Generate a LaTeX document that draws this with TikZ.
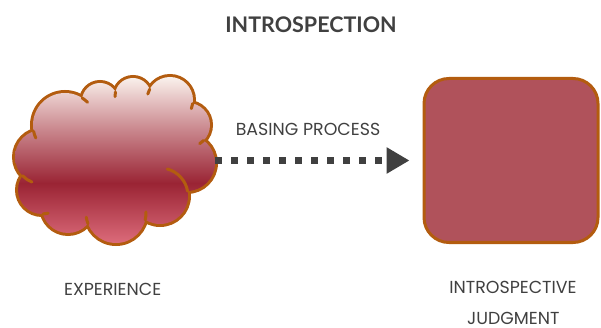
\documentclass[tikz,border=0pt]{standalone}
\usepackage{fontspec}
\setmainfont{Lato}
\newfontfamily\lblfont{Poppins}
\usetikzlibrary{arrows.meta,calc}
\definecolor{txt}{HTML}{404040}
\definecolor{edge}{HTML}{B35C0F}
\definecolor{boxfill}{HTML}{B0525B}
\definecolor{cbot}{HTML}{DC6B7A}
\definecolor{cdark}{HTML}{9A2434}
\definecolor{cmid}{HTML}{CC8C92}
\definecolor{ctop}{HTML}{FAF1EC}
\pgfdeclareverticalshading{cloudshade}{100bp}{color(0bp)=(cbot); color(25bp)=(cbot); color(43bp)=(cdark); color(60bp)=(cmid); color(75bp)=(ctop); color(100bp)=(ctop)}
\begin{document}
\begin{tikzpicture}[x=1pt,y=-1pt,
  lbl/.style={text=txt,font=\lblfont\fontsize{17.4}{19}\selectfont,inner sep=0pt},
  puffedge/.style={draw=edge,line width=6pt},
  stub/.style={draw=edge,line width=3pt,line cap=round},
  boxnode/.style={draw=edge,line width=3pt,fill=boxfill,rounded corners=25pt,minimum width=174pt,minimum height=164pt,inner sep=0pt},
  flow/.style={draw=txt,line width=7pt,dash pattern=on 7pt off 9pt,-{Triangle[length=23pt,width=25pt]}}]
\useasboundingbox (0,0) rectangle (601,328);
\node[text=txt,font=\bfseries\fontsize{21.5}{23}\selectfont,inner sep=0pt] (title) at (311,24.5) {INTROSPECTION};
% cloud
\foreach \cx/\cy/\r in {65/125/32,100/101/18,133/96/18,170/100/23,188/125/22,187/163/28,160/196/28,116/213/30,68/207/26,42/190/24,42/157/27}
  \draw[puffedge] (\cx,\cy) circle[radius=\r];
\shade[shading=cloudshade] (65,125) circle[radius=32] (100,101) circle[radius=18] (133,96) circle[radius=18]
  (170,100) circle[radius=23] (188,125) circle[radius=22] (187,163) circle[radius=28] (160,196) circle[radius=28]
  (116,213) circle[radius=30] (68,207) circle[radius=26] (42,190) circle[radius=24] (42,157) circle[radius=27]
  (118,155) ellipse[x radius=70,y radius=55];
\foreach \cx/\cy/\r/\a/\b in {65/125/32/168.7/156,65/125/32/-57.5/-45,133/96/18/193/178,170/100/23/208/195,170/100/23/8.8/22,188/125/22/44.8/58,160/196/28/-10/-75,116/213/30/13.3/-2,116/213/30/159/172,42/190/24/87.6/75,42/157/27/136/112}
  \draw[stub] ($(\cx,\cy)+(\a:\r)$) arc[start angle=\a,end angle=\b,radius=\r];
\node[minimum width=202pt,minimum height=168pt,inner sep=0pt] (cloud) at (114,160.5) {};
\node[boxnode] (box) at (511,160.5) {};
\draw[flow,shorten >=13pt] (cloud.east) -- (box.west);
\node[lbl] (bp) at (308,129) {BASING PROCESS};
\node[lbl] (exp) at (112.7,289) {EXPERIENCE};
\node[lbl] (ij1) at (513,287) {INTROSPECTIVE};
\node[lbl] (ij2) at (513.3,318) {JUDGMENT};
\end{tikzpicture}
\end{document}
